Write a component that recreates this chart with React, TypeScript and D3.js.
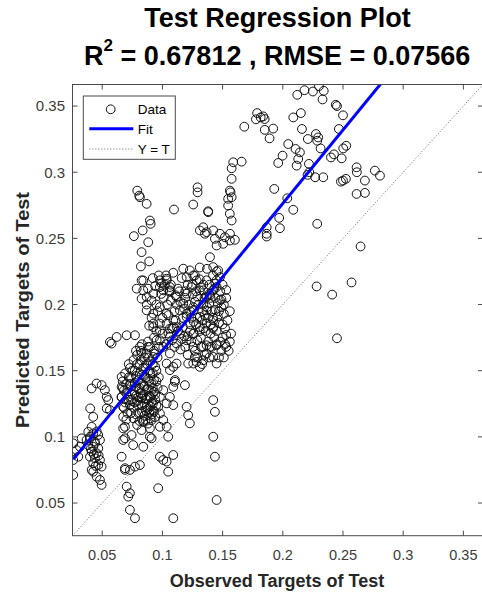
import React from 'react';
import * as d3 from 'd3';

// ---- data (observed, predicted) ----
const upperSpread: [number, number][] = [
  [0.212,0.3585],[0.218,0.362],[0.225,0.361],[0.230,0.365],[0.234,0.3615],[0.233,0.355],[0.244,0.351],[0.245,0.350],[0.250,0.343],
  [0.1787,0.3447],[0.1816,0.3414],[0.1837,0.3422],[0.1849,0.3402],[0.1777,0.340],[0.168,0.3344],[0.185,0.332],[0.192,0.333],[0.189,0.3256],
  [0.2087,0.3414],[0.215,0.3447],[0.2159,0.3327],[0.2208,0.3251],[0.2275,0.3289],[0.2294,0.3263],[0.2286,0.3238],[0.2314,0.318],[0.2466,0.3327],
  [0.2045,0.3213],[0.2106,0.3176],[0.2142,0.315],[0.2128,0.310],[0.1998,0.3125],[0.1962,0.307],[0.2115,0.305],[0.2217,0.3063],[0.222,0.300],[0.2206,0.298],
  [0.2269,0.2962],[0.2336,0.2962],[0.240,0.3112],[0.2425,0.3135],[0.2489,0.3105],[0.2502,0.318],[0.2527,0.320],
  [0.2483,0.2929],[0.250,0.2937],[0.2524,0.295],[0.2682,0.2937],[0.2613,0.3037],[0.2615,0.300],[0.2765,0.3012],[0.2807,0.2974],[0.2613,0.2836],[0.2682,0.2844],
  [0.1929,0.2874],[0.2037,0.2803],[0.2087,0.2716],[0.197,0.2655],[0.1976,0.2577],[0.1866,0.2584],[0.1866,0.2535],[0.1866,0.2514],[0.2286,0.261],
];

const outliersBelow: [number, number][] = [
  [0.2646,0.2439],[0.2281,0.2137],[0.2410,0.2075],[0.2571,0.2167],[0.245,0.1745],
];

const midColumn: [number, number][] = [
  [0.1588,0.3075],[0.1658,0.308],[0.1575,0.303],[0.1575,0.295],[0.1566,0.2848],[0.1575,0.2811],
  [0.138,0.2705],[0.156,0.2861],[0.1546,0.2799],[0.1546,0.2748],[0.156,0.2686],[0.1575,0.2635],
  [0.1339,0.2584],[0.1367,0.2547],[0.1422,0.2560],[0.1478,0.2535],[0.1519,0.2509],[0.1561,0.2484],[0.1602,0.2489],[0.1450,0.2446],[0.1505,0.2459],[0.1561,0.2535],[0.1436,0.2497],[0.1353,0.2535],
  [0.1395,0.2358],[0.1422,0.2283],[0.1463,0.2258],[0.1478,0.2207],[0.1450,0.2132],[0.1367,0.2183],[0.1339,0.2107],[0.1395,0.2069],[0.1478,0.2032],
  [0.1096,0.2718],[0.1256,0.2756],[0.1292,0.2886],[0.1292,0.2848],[0.138,0.2698],[0.1311,0.2560],
  [0.1173,0.2271],[0.1228,0.2258],[0.1201,0.2207],[0.1256,0.2220],
  [0.131,0.228],[0.137,0.227],[0.142,0.222],[0.145,0.225],
];

const leftColumn: [number, number][] = [
  [0.0791,0.2861],[0.0807,0.2823],[0.0813,0.2811],[0.0869,0.2761],[0.0763,0.2517],[0.0836,0.2560],[0.0896,0.2635],[0.0902,0.2610],
  [0.0882,0.2471],[0.0827,0.2396],[0.0890,0.2326],[0.0821,0.2288],[0.0841,0.2182],[0.0786,0.2120],[0.0827,0.2044],
  [0.0979,0.2183],[0.1035,0.2195],[0.1062,0.2132],[0.1007,0.2107],
];

const centerBlob: [number, number][] = [
  [0.0827,0.2183],[0.0841,0.2107],[0.0869,0.2057],[0.0924,0.2082],[0.0979,0.2132],[0.1035,0.2183],[0.1062,0.2107],[0.1118,0.2057],
  [0.1173,0.2007],[0.1201,0.2082],[0.1242,0.2132],[0.1284,0.2183],[0.1311,0.2107],[0.1367,0.2057],[0.1422,0.2107],[0.1450,0.2183],
  [0.0869,0.1956],[0.0924,0.1931],[0.0979,0.1981],[0.1035,0.1931],[0.1090,0.1881],[0.1145,0.1956],[0.1201,0.1906],[0.1256,0.1981],
  [0.1311,0.1906],[0.1367,0.1956],[0.1422,0.1881],[0.0979,0.1856],[0.1062,0.1818],[0.1118,0.1830],[0.0924,0.1856],
  [0.0924,0.1830],[0.0979,0.1805],[0.1035,0.1856],[0.1090,0.1830],[0.1145,0.1780],[0.1062,0.1755],[0.0979,0.1730],[0.1007,0.1680],
  [0.1118,0.1705],[0.1201,0.1730],[0.1256,0.1780],[0.1311,0.1830],[0.1367,0.1856],[0.1422,0.1830],[0.1256,0.1680],[0.1367,0.1692],
  [0.1450,0.1692],[0.0938,0.1630],[0.0896,0.1680],[0.1062,0.1630],
  [0.1339,0.1680],[0.1395,0.1680],[0.1367,0.1630],[0.1422,0.1604],[0.1450,0.1554],[0.1339,0.1579],[0.1256,0.1554],[0.1311,0.1529],
  [0.1214,0.1554],[0.1284,0.1566],[0.1270,0.1604],
  [0.150,0.175],[0.153,0.168],[0.156,0.172],[0.149,0.165],
  [0.113,0.212],[0.118,0.197],[0.123,0.185],[0.127,0.202],[0.133,0.195],[0.139,0.201],[0.144,0.196],[0.129,0.190],[0.117,0.183],
  [0.110,0.195],[0.104,0.200],[0.100,0.190],[0.095,0.200],[0.108,0.173],[0.115,0.166],[0.121,0.176],[0.132,0.175],[0.140,0.178],
  [0.147,0.186],[0.146,0.201],[0.134,0.215],[0.125,0.208],[0.116,0.220],[0.109,0.224],[0.101,0.205],[0.094,0.214],[0.148,0.210],
  [0.151,0.193],[0.152,0.182],
];

const centerBlobDense: [number, number][] = [
  [0.088,0.212],[0.091,0.203],[0.096,0.195],[0.099,0.208],[0.102,0.215],[0.105,0.192],[0.107,0.203],[0.111,0.188],[0.112,0.200],
  [0.114,0.210],[0.119,0.205],[0.120,0.193],[0.122,0.200],[0.124,0.190],[0.126,0.196],[0.128,0.185],[0.130,0.200],[0.131,0.180],
  [0.133,0.188],[0.135,0.205],[0.136,0.180],[0.138,0.190],[0.140,0.185],[0.141,0.195],[0.143,0.175],[0.144,0.205],[0.145,0.180],
  [0.146,0.191],[0.148,0.172],[0.149,0.198],[0.150,0.185],[0.151,0.160],[0.153,0.177],[0.154,0.188],[0.147,0.160],[0.141,0.168],
  [0.138,0.172],[0.135,0.162],[0.132,0.168],[0.129,0.173],[0.127,0.165],[0.124,0.172],[0.121,0.162],[0.119,0.168],[0.116,0.174],
  [0.113,0.180],[0.110,0.168],[0.108,0.182],[0.105,0.178],[0.103,0.170],[0.100,0.178],[0.097,0.168],[0.095,0.180],[0.093,0.175],
  [0.091,0.190],[0.089,0.184],[0.087,0.200],[0.092,0.220],[0.097,0.222],[0.107,0.215],[0.121,0.215],[0.127,0.222],[0.139,0.215],
  [0.143,0.212],[0.117,0.190],[0.123,0.180],[0.115,0.202],[0.134,0.200],[0.140,0.205],[0.145,0.170],[0.139,0.160],[0.133,0.155],
  [0.129,0.160],[0.152,0.170],[0.155,0.165],[0.157,0.178],[0.156,0.195],[0.153,0.205],[0.150,0.215],
  [0.123,0.195],[0.126,0.187],[0.129,0.206],[0.132,0.213],[0.135,0.192],[0.137,0.198],[0.139,0.208],[0.142,0.190],[0.144,0.216],
  [0.147,0.195],[0.149,0.204],[0.151,0.200],[0.153,0.211],[0.131,0.219],[0.128,0.210],[0.125,0.215],[0.119,0.210],[0.111,0.207],
  [0.106,0.210],[0.103,0.222],[0.099,0.216],[0.118,0.176],[0.126,0.178],[0.134,0.182],[0.142,0.182],
];

const leftBlob: [number, number][] = [
  [0.068,0.135],[0.070,0.140],[0.072,0.128],[0.074,0.145],[0.075,0.132],[0.076,0.122],[0.077,0.150],[0.078,0.138],[0.079,0.127],
  [0.080,0.118],[0.080,0.143],[0.081,0.155],[0.082,0.133],[0.083,0.124],[0.083,0.147],[0.084,0.139],[0.085,0.116],[0.085,0.160],
  [0.086,0.129],[0.086,0.152],[0.087,0.136],[0.088,0.121],[0.088,0.144],[0.089,0.131],[0.090,0.157],[0.090,0.114],[0.091,0.126],
  [0.091,0.140],[0.092,0.148],[0.093,0.119],[0.093,0.134],[0.094,0.128],[0.095,0.142],[0.071,0.118],[0.073,0.152],[0.069,0.126],
  [0.067,0.142],[0.076,0.114],[0.079,0.162],[0.082,0.165],[0.084,0.112],[0.087,0.163],[0.089,0.150],[0.078,0.131],[0.081,0.137],
  [0.085,0.146],[0.083,0.130],[0.077,0.141],[0.086,0.120],[0.092,0.137],[0.075,0.127],[0.080,0.124],[0.088,0.110],[0.079,0.109],
  [0.094,0.153],[0.072,0.145],[0.066,0.130],[0.070,0.133],[0.074,0.138],[0.090,0.123],
  [0.0882,0.168],[0.0924,0.1604],[0.0952,0.1730],[0.0813,0.1680],[0.0827,0.1630],
  [0.062,0.1755],[0.0703,0.1768],[0.0772,0.1768],[0.0564,0.1717],[0.0578,0.1705],
  [0.0661,0.1453],[0.0661,0.1378],[0.0661,0.1302],[0.0674,0.1227],[0.0674,0.1152],[0.0689,0.1076],
];

const leftBlobDense: [number, number][] = [
  [0.067,0.137],[0.068,0.122],[0.069,0.148],[0.070,0.113],[0.071,0.136],[0.072,0.155],[0.073,0.124],[0.073,0.140],[0.074,0.118],
  [0.075,0.150],[0.076,0.135],[0.076,0.158],[0.077,0.126],[0.078,0.117],[0.078,0.146],[0.079,0.155],[0.080,0.130],[0.081,0.148],
  [0.081,0.112],[0.082,0.140],[0.082,0.158],[0.083,0.119],[0.084,0.132],[0.084,0.152],[0.085,0.125],[0.085,0.138],[0.086,0.145],
  [0.086,0.113],[0.087,0.128],[0.087,0.155],[0.088,0.136],[0.088,0.160],[0.089,0.118],[0.089,0.142],[0.090,0.130],[0.090,0.148],
  [0.091,0.135],[0.091,0.117],[0.092,0.125],[0.092,0.155],[0.093,0.143],[0.094,0.132],[0.094,0.115],[0.095,0.124],[0.095,0.150],
  [0.096,0.137],[0.096,0.160],[0.097,0.145],[0.078,0.165],[0.083,0.170],[0.088,0.172],[0.093,0.165],[0.074,0.128],[0.080,0.136],
];

const lowCluster: [number, number][] = [
  [0.0259,0.0825],[0.0259,0.0712],[0.0287,0.0900],[0.0259,0.0951],[0.0315,0.0925],[0.0329,0.0989],[0.0301,0.0850],
  [0.0425,0.1151],[0.0412,0.1076],[0.0384,0.1038],[0.0425,0.1026],[0.0467,0.1014],[0.0398,0.0989],[0.0439,0.0963],[0.0481,0.0976],
  [0.0384,0.0938],[0.0425,0.0925],[0.0467,0.0913],[0.0412,0.0888],[0.0453,0.0876],[0.0398,0.0850],[0.0439,0.0838],[0.0481,0.0825],
  [0.0425,0.0800],[0.0467,0.0787],[0.0495,0.0775],[0.0412,0.0750],[0.0453,0.0699],[0.0481,0.0674],[0.0495,0.0637],[0.0425,0.0737],
  [0.0412,0.1366],[0.0453,0.1403],[0.0495,0.1391],[0.0522,0.1353],[0.0537,0.1302],[0.0550,0.1278],[0.0537,0.1215],[0.0564,0.1202],
  [0.0400,0.1215],[0.0370,0.0976],[0.0398,0.1001],
  [0.0440,0.0950],[0.0455,0.1040],[0.0470,0.0860],[0.0405,0.0910],[0.0445,0.0780],[0.0430,0.0870],
];

const belowLine: [number, number][] = [
  [0.0674,0.0976],[0.0661,0.0850],[0.0689,0.0751],[0.0703,0.0624],[0.0730,0.0574],[0.0716,0.0548],[0.0730,0.0448],[0.0772,0.0385],
  [0.0674,0.1064],[0.0689,0.0989],[0.0744,0.1014],[0.0757,0.0938],[0.0841,0.0925],[0.0827,0.1051],[0.0896,0.1064],[0.0896,0.1001],
  [0.0910,0.0989],[0.0979,0.1076],[0.1035,0.1076],[0.1048,0.1001],[0.1090,0.1240],[0.0979,0.1177],[0.1007,0.1127],
  [0.0689,0.0763],[0.0730,0.0750],[0.0772,0.0775],[0.0813,0.0787],[0.0965,0.0612],
  [0.0979,0.0850],[0.1007,0.0825],[0.1035,0.0813],[0.1048,0.0737],[0.1090,0.0863],[0.1090,0.0385],
  [0.1201,0.1227],[0.1214,0.1164],[0.1228,0.1102],[0.1187,0.1391],[0.1104,0.1416],
  [0.1422,0.1278],[0.1436,0.1189],[0.1422,0.1001],[0.1436,0.0850],[0.1450,0.0523],
  [0.1062,0.1504],[0.1090,0.1529],[0.1104,0.1429],[0.1118,0.1554],[0.1035,0.1554],[0.1007,0.1353],[0.1062,0.1302],[0.0979,0.1302],
  [0.0965,0.1227],[0.1090,0.1378],[0.1035,0.1253],[0.0896,0.1302],[0.0869,0.1227],[0.0827,0.1290],[0.0924,0.1202],[0.0910,0.1127],[0.0841,0.1114],
];

const tickValues = [0.05, 0.1, 0.15, 0.2, 0.25, 0.3, 0.35];
const tickLabels = ['0.05', '0.1', '0.15', '0.2', '0.25', '0.3', '0.35'];
const axisLimits: [number, number] = [0.0253, 0.3663];
const fitSlope = 1.111;
const fitIntercept = 0.0542;
const legendLabels = ['Data', 'Fit', 'Y = T'];
const titleLine1 = 'Test Regression Plot';
const r2Value = '0.67812';
const rmseValue = '0.07566';
const xLabel = 'Observed Targets of Test';
const yLabel = 'Predicted Targets of Test';

const FONT = "'Liberation Sans', Arial, Helvetica, sans-serif";

export default function App() {
  const W = 482, H = 594;
  const left = 72.5, right = 483, top = 84.5, bottom = 535.7;
  const x = d3.scaleLinear().domain(axisLimits).range([left, right]);
  const y = d3.scaleLinear().domain(axisLimits).range([bottom, top]);
  const points = [
    ...upperSpread, ...outliersBelow, ...midColumn, ...leftColumn, ...centerBlob, ...centerBlobDense,
    ...leftBlob, ...leftBlobDense, ...lowCluster, ...belowLine,
  ];

  const line = d3.line<[number, number]>().x(d => x(d[0])).y(d => y(d[1]));
  const x0 = 0.0259, x1 = axisLimits[1];
  const fitPath = line([[x0, fitSlope * x0 + fitIntercept], [x1, fitSlope * x1 + fitIntercept]]) || '';
  const idPath = line([[axisLimits[0], axisLimits[0]], [axisLimits[1], axisLimits[1]]]) || '';

  const axisColor = '#4a4a4a';
  const tickColor = '#3c3c3c';
  const tl = 5;
  const markerR = 4.4;

  return (
    <svg width={W} height={H} style={{ position: 'absolute', left: 0, top: 0, display: 'block', background: '#fff' }}>
      <defs>
        <clipPath id="plotClip">
          <rect x={left} y={top} width={right - left} height={bottom - top} />
        </clipPath>
      </defs>
      <rect x={0} y={0} width={W} height={H} fill="#fff" />

      {/* titles */}
      <text x={277.5} y={26.7} textAnchor="middle" fontFamily={FONT} fontWeight="bold" fontSize={27} fill="#000">{titleLine1}</text>
      <text x={277.2} y={65} textAnchor="middle" fontFamily={FONT} fontWeight="bold" fontSize={27} fill="#000">
        R<tspan fontSize={17} dy={-14}>2</tspan><tspan dy={14}>{` = ${r2Value} , RMSE = ${rmseValue}`}</tspan>
      </text>

      {/* points */}
      <g clipPath="url(#plotClip)">
        {points.map((p, i) => (
          <circle key={i} cx={x(p[0])} cy={y(p[1])} r={markerR} fill="none" stroke="#111" strokeWidth={1} />
        ))}
        <path d={fitPath} stroke="#0000ff" strokeWidth={3} fill="none" />
        <path d={idPath} stroke="#555" strokeWidth={0.9} strokeDasharray="1,2" fill="none" />
      </g>

      {/* axes box */}
      <rect x={left} y={top} width={right - left} height={bottom - top} fill="none" stroke={axisColor} strokeWidth={1} />
      {tickValues.map((v, i) => (
        <g key={'t' + i}>
          <line x1={x(v)} x2={x(v)} y1={bottom} y2={bottom - tl} stroke={axisColor} />
          <line x1={x(v)} x2={x(v)} y1={top} y2={top + tl} stroke={axisColor} />
          <line x1={left} x2={left + tl} y1={y(v)} y2={y(v)} stroke={axisColor} />
          <line x1={right} x2={right - tl} y1={y(v)} y2={y(v)} stroke={axisColor} />
          <text x={x(v)} y={559.5} textAnchor="middle" fontFamily={FONT} fontSize={14.5} fill={tickColor}>{tickLabels[i]}</text>
          <text x={65} y={y(v) + 5.3} textAnchor="end" fontFamily={FONT} fontSize={15} fill={tickColor}>{tickLabels[i]}</text>
        </g>
      ))}

      {/* axis labels */}
      <text x={277} y={586.5} textAnchor="middle" fontFamily={FONT} fontWeight="bold" fontSize={18} fill="#262626">{xLabel}</text>
      <text transform={`translate(28.5,310) rotate(-90)`} textAnchor="middle" fontFamily={FONT} fontWeight="bold" fontSize={18.5}
        textLength={236} lengthAdjust="spacingAndGlyphs" fill="#262626">{yLabel}</text>

      {/* legend */}
      <g>
        <rect x={83.3} y={96} width={92} height={63.3} fill="#fff" stroke={axisColor} strokeWidth={1} />
        <circle cx={110.7} cy={109.3} r={markerR} fill="none" stroke="#111" strokeWidth={1} />
        <line x1={89.3} x2={133.3} y1={128.7} y2={128.7} stroke="#0000ff" strokeWidth={3} />
        <line x1={89.3} x2={133.3} y1={149} y2={149} stroke="#555" strokeWidth={0.9} strokeDasharray="1,2" />
        {legendLabels.map((t, i) => (
          <text key={t} x={137.7} y={114.3 + i * 19.9} fontFamily={FONT} fontSize={13.5} fill="#000">{t}</text>
        ))}
      </g>
    </svg>
  );
}
